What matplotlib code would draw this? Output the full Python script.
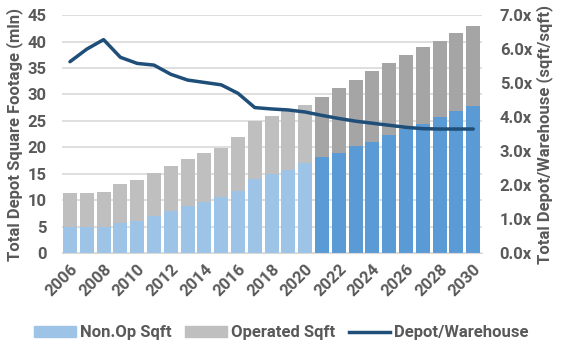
import matplotlib
matplotlib.use("Agg")
import matplotlib.pyplot as plt
import numpy as np
from matplotlib.patches import Patch
from matplotlib.lines import Line2D

years = list(range(2006, 2031))
total_sqft = [11.3, 11.3, 11.5, 13.0, 13.8, 15.1, 16.5, 17.8, 18.9, 19.9, 22.0, 25.0, 25.9, 27.1, 28.0,
              29.5, 31.2, 32.7, 34.4, 35.9, 37.4, 39.0, 40.2, 41.6, 42.9]
nonop_sqft = [4.9, 4.9, 4.9, 5.6, 6.0, 7.0, 7.9, 8.9, 9.6, 10.6, 11.8, 14.0, 14.9, 15.8, 17.0,
              18.1, 19.0, 20.2, 21.1, 22.3, 23.5, 24.5, 25.7, 26.8, 27.9]
ratio = [5.63, 6.0, 6.28, 5.76, 5.58, 5.53, 5.26, 5.09, 5.02, 4.95, 4.70, 4.28, 4.24, 4.21, 4.15,
         4.05, 3.96, 3.88, 3.82, 3.76, 3.70, 3.66, 3.65, 3.65, 3.65]
operated_sqft = [t - n for t, n in zip(total_sqft, nonop_sqft)]
forecast_start = 2021

plt.rcParams['font.family'] = ['Roboto', 'DejaVu Sans']
txt = '#595959'
fs = 12

fig = plt.figure(figsize=(5.70, 3.52), dpi=100)
ax = fig.add_axes([0.108, 0.281, 0.737, 0.676])
ax2 = ax.twinx()

x = np.arange(len(years))
nonop_colors = ['#9DC3E6' if y < forecast_start else '#5B9BD5' for y in years]
op_colors = ['#BFBFBF' if y < forecast_start else '#A5A5A5' for y in years]
ax.bar(x, nonop_sqft, width=0.83, color=nonop_colors, zorder=2)
ax.bar(x, operated_sqft, bottom=nonop_sqft, width=0.83, color=op_colors, zorder=2)
ax2.plot(x, ratio, color='#1F4E79', lw=2.5, solid_capstyle='round')

ax.set_xlim(-0.5, len(years) - 0.5)
ax.set_ylim(0, 45)
ax.set_yticks(range(0, 46, 5))
ax2.set_ylim(0, 7)
ax2.set_yticks(np.arange(0, 7.01, 1.0))
ax2.set_yticklabels([f"{v:.1f}x" for v in np.arange(0, 7.01, 1.0)])

ax.yaxis.grid(True, color='#D9D9D9', lw=1.2, zorder=0)
ax.set_axisbelow(True)
for a in (ax, ax2):
    for s in a.spines.values():
        s.set_visible(False)
ax.spines['bottom'].set_visible(True)
ax.spines['bottom'].set_color('#D9D9D9')

ax.set_xticks(x[::2])
ax.set_xticklabels([str(y) for y in years[::2]], rotation=45, ha='right', rotation_mode='anchor')
ax.tick_params(axis='x', length=0, labelsize=fs, labelcolor=txt, pad=6)
ax.tick_params(axis='y', length=0, labelsize=fs, labelcolor=txt, pad=11)
ax2.tick_params(axis='y', length=0, labelsize=fs, labelcolor=txt, pad=13)
for lbl in ax.get_xticklabels() + ax.get_yticklabels() + ax2.get_yticklabels():
    lbl.set_fontweight('bold')

ax.set_ylabel('Total Depot Square Footage (mln)', fontsize=fs, fontweight='bold', color=txt, labelpad=3)
ax2.set_ylabel('Total Depot/Warehouse (sqft/sqft)', fontsize=fs, fontweight='bold', color=txt, labelpad=3)

handles = [Patch(color='#9DC3E6'), Patch(color='#BFBFBF'), Line2D([0], [0], color='#1F4E79', lw=2.5)]
labels = ['Non.Op Sqft', 'Operated Sqft', 'Depot/Warehouse']
leg = fig.legend(handles, labels, loc='center', bbox_to_anchor=(0.494, 0.054), ncol=3, frameon=False,
                 prop={'weight': 'bold', 'size': fs}, handlelength=2.5, handleheight=0.6,
                 columnspacing=0.8, handletextpad=0.25)
for t in leg.get_texts():
    t.set_color(txt)

fig.savefig('out.png', dpi=100)
